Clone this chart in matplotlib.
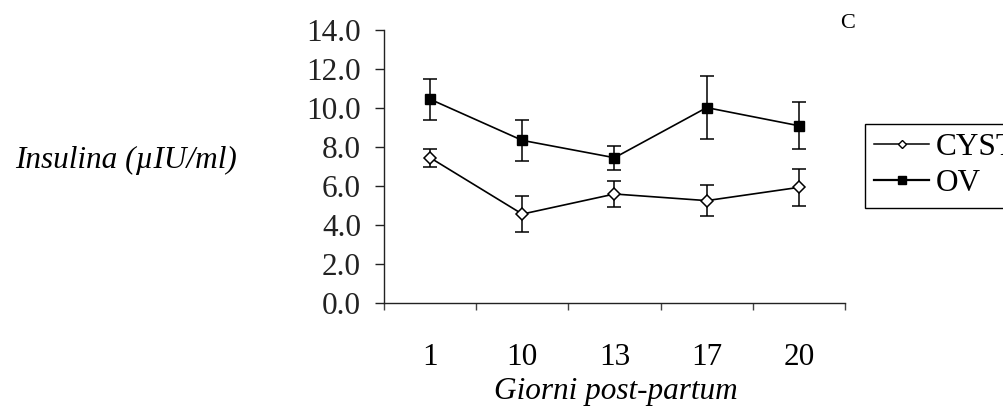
import numpy as np
import matplotlib
matplotlib.use("Agg")
import matplotlib.pyplot as plt
from matplotlib.lines import Line2D
from matplotlib.ticker import FormatStrFormatter, FixedLocator

# Giorni post-partum
days = ['1', '10', '13', '17', '20']

# Insulina (uIU/ml), mean and error
cyst_mean = [7.45, 4.56, 5.59, 5.25, 5.93]
cyst_err = [0.45, 0.93, 0.67, 0.80, 0.93]
ov_mean = [10.45, 8.34, 7.45, 10.02, 9.09]
ov_err = [1.05, 1.05, 0.62, 1.60, 1.20]

plt.rcParams['font.family'] = ['Liberation Serif', 'DejaVu Serif']
FS = 22.5

W, H = 1004, 408
fig = plt.figure(figsize=(W / 100, H / 100), dpi=100)
ax = fig.add_axes([384 / W, (H - 303) / H, 461 / W, 273 / H])

x = np.arange(len(days))
ax.errorbar(x, cyst_mean, yerr=cyst_err, color='black', lw=1.2, marker='D', ms=6,
            mfc='white', mec='black', mew=1.1, capsize=4.7, capthick=1.1,
            elinewidth=1.1, zorder=3)
ax.errorbar(x, ov_mean, yerr=ov_err, color='black', lw=1.2, marker='s', ms=7.5,
            mfc='black', mec='black', capsize=4.7, capthick=1.1,
            elinewidth=1.1, zorder=3)

ax.set_xlim(-0.5, len(days) - 0.5)
ax.set_ylim(0, 14)
ax.set_yticks(np.arange(0, 14.1, 2))
ax.yaxis.set_major_formatter(FormatStrFormatter('%.1f'))
ax.set_xticks(x)
ax.set_xticklabels(days)
ax.xaxis.set_minor_locator(FixedLocator(np.arange(-0.5, len(days), 1.0)))

for s in ['top', 'right']:
    ax.spines[s].set_visible(False)
for s in ['left', 'bottom']:
    ax.spines[s].set_linewidth(1.0)
    ax.spines[s].set_color('#222222')

ax.tick_params(axis='y', direction='out', length=6.5, width=1.0, pad=10, labelsize=FS, colors='#222222')
ax.tick_params(axis='x', which='major', length=0, pad=28.5, labelsize=FS)
ax.tick_params(axis='x', which='minor', direction='out', length=5, width=1.0, color='#444444')

fig.text(126 / W, 1 - 160 / H, 'Insulina (µIU/ml)', fontsize=FS, style='italic',
         ha='center', va='center')
fig.text(616 / W, 1 - 392 / H, 'Giorni post-partum', fontsize=FS, style='italic',
         ha='center', va='center')
fig.text(848 / W, 1 - 24 / H, 'C', fontsize=16, ha='center', va='center')

# legend without error bars
handles = [
    Line2D([], [], color='black', lw=1.1, marker='D', ms=4.2, mfc='white', mec='black', mew=1.0),
    Line2D([], [], color='black', lw=1.6, marker='s', ms=6, mfc='black', mec='black'),
]
leg = ax.legend(handles, ['CYST', 'OV'], loc='upper left',
                bbox_to_anchor=(865 / W, 1 - 124 / H),
                bbox_transform=fig.transFigure, borderaxespad=0, fontsize=FS,
                frameon=True, fancybox=False, edgecolor='black', framealpha=1,
                borderpad=0.3, labelspacing=0.22, handlelength=1.75,
                handletextpad=0.2)
leg.get_frame().set_linewidth(1.0)

fig.savefig('out.png', dpi=100)
